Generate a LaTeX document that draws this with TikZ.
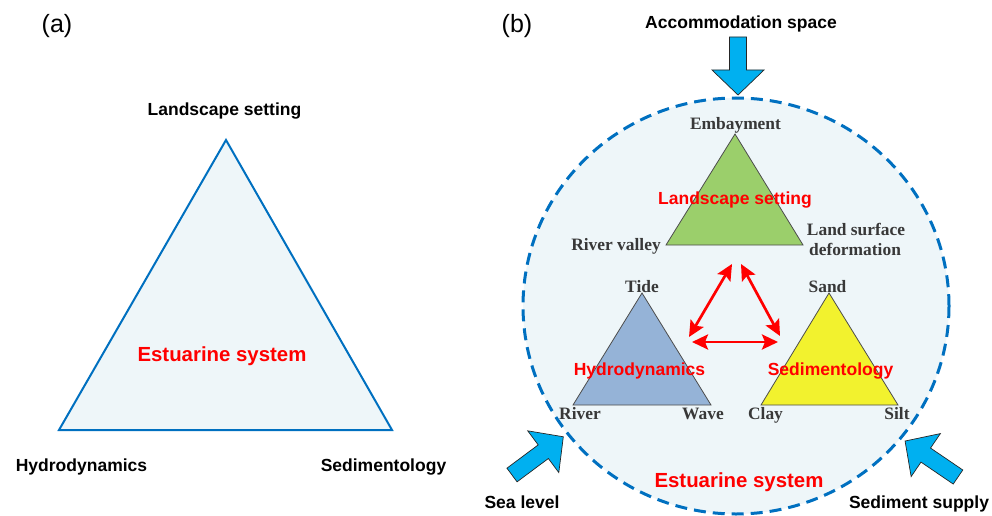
\documentclass[tikz,border=0pt]{standalone}
\usepackage{fontspec}
\setmainfont{Liberation Sans}
\newfontfamily\serifb{Liberation Serif}
\usetikzlibrary{arrows.meta}
\definecolor{lineblue}{HTML}{0070C0}
\definecolor{paleblue}{HTML}{EEF6F9}
\definecolor{arrowblue}{HTML}{00B0F0}
\definecolor{tgreen}{HTML}{9BCF6B}
\definecolor{tblue}{HTML}{95B3D7}
\definecolor{tyellow}{HTML}{F2F22E}
\definecolor{labgray}{HTML}{383838}
\begin{document}
\begin{tikzpicture}[x=1pt,y=-1pt,
  lab/.style={inner sep=0pt, anchor=base, font=\fontsize{17.5}{20}\selectfont\bfseries},
  redlab/.style={lab, text=red},
  biglab/.style={inner sep=0pt, anchor=base, text=red, font=\fontsize{20.4}{24}\selectfont\bfseries},
  serlab/.style={inner sep=0pt, anchor=base, text=labgray, font=\serifb\fontsize{17.4}{20}\selectfont\bfseries},
  panel/.style={inner sep=0pt, font=\fontsize{25}{28}\selectfont},
  minitri/.style={draw=black!70, line width=0.8pt, line join=miter},
  relarrow/.style={red, line width=2.7pt, {Stealth[length=16pt,width=15pt,inset=3pt]}-{Stealth[length=16pt,width=15pt,inset=3pt]}},
  pics/bigarrow/.style={code={\draw[fill=arrowblue, draw=black!85, line width=0.7pt, line join=miter] (0,-8.5) -- ({#1-25},-8.5) -- ({#1-25},-26) -- (#1,0) -- ({#1-25},26) -- ({#1-25},8.5) -- (0,8.5) -- cycle;}}
]
\useasboundingbox (0,0) rectangle (992,516);

% ---------- panel (a) ----------
\node[panel] (pa) at (57,26) {(a)};
\coordinate (A1) at (226,140);
\coordinate (A2) at (59,430);
\coordinate (A3) at (392,430);
\draw[lineblue, fill=paleblue, line width=2pt, line join=miter] (A1) -- (A2) -- (A3) -- cycle;
\node[lab] (aLand) at (224.5,116) {Landscape setting};
\node[biglab] (aEst) at (222,361) {Estuarine system};
\node[lab] (aHyd) at (81.5,471) {Hydrodynamics};
\node[lab] (aSed) at (383.5,471) {Sedimentology};

% ---------- panel (b) ----------
\node[panel] (pb) at (517,26) {(b)};
\draw[lineblue, fill=paleblue, line width=3pt, dash pattern=on 12pt off 7pt] (736,306) ellipse [x radius=213, y radius=208];

% green triangle
\coordinate (G1) at (735,134);
\coordinate (G2) at (666,245);
\coordinate (G3) at (803,245);
\draw[minitri, fill=tgreen] (G1) -- (G2) -- (G3) -- cycle;
% blue triangle
\coordinate (B1) at (642,293);
\coordinate (B2) at (573,405);
\coordinate (B3) at (711,405);
\draw[minitri, fill=tblue] (B1) -- (B2) -- (B3) -- cycle;
% yellow triangle
\coordinate (Y1) at (829,293);
\coordinate (Y2) at (761,405);
\coordinate (Y3) at (898,405);
\draw[minitri, fill=tyellow] (Y1) -- (Y2) -- (Y3) -- cycle;

% red interaction arrows
\coordinate (r1a) at (689,337);
\coordinate (r1b) at (732,264);
\coordinate (r2a) at (741,264);
\coordinate (r2b) at (780,336);
\coordinate (r3a) at (692,342);
\coordinate (r3b) at (778,342);
\draw[relarrow] (r1a) -- (r1b);
\draw[relarrow] (r2a) -- (r2b);
\draw[relarrow] (r3a) -- (r3b);

% serif vertex labels
\node[serlab] (emb) at (735.5,129) {Embayment};
\node[serlab] (rv) at (616,250) {River valley};
\node[serlab] (lsd) at (856,235) {Land surface};
\node[serlab] (def) at (855,255) {deformation};
\node[serlab] (tide) at (642,292) {Tide};
\node[serlab] (river) at (580,419) {River};
\node[serlab] (wave) at (703,419) {Wave};
\node[serlab] (sand) at (827.5,292) {Sand};
\node[serlab] (clay) at (765.5,419) {Clay};
\node[serlab] (silt) at (897,419) {Silt};

% red labels
\node[redlab] (bLand) at (735,204) {Landscape setting};
\node[redlab] (bHyd) at (639.5,375) {Hydrodynamics};
\node[redlab] (bSed) at (830.5,375) {Sedimentology};
\node[biglab] (bEst) at (739,487) {Estuarine system};

% external forcing arrows
\pic[rotate=-90] at (738,37) {bigarrow=58};
\pic[rotate=36.7] at (512,475) {bigarrow=64};
\pic[rotate=145.8] at (958,477) {bigarrow=64};
\node[lab] (acc) at (741,29) {Accommodation space};
\node[lab] (sea) at (522,508) {Sea level};
\node[lab] (sup) at (919,508) {Sediment supply};
\end{tikzpicture}
\end{document}
